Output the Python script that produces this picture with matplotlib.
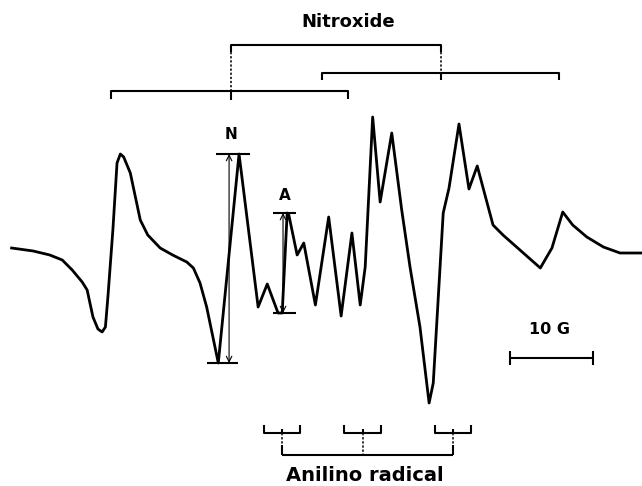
import matplotlib.pyplot as plt

# ESR derivative spectrum, field in G, signal in arbitrary units (baseline = 0)
field = [1.4, 4.0, 6.0, 7.5, 8.7, 9.9, 10.5, 11.2, 11.8, 12.3, 12.7, 13.0,
         13.6, 14.1, 14.5, 14.9, 15.7, 16.9, 17.8, 19.3, 20.8, 22.5, 23.3,
         24.1, 24.9, 25.9, 26.3, 28.8, 31.1, 32.2, 33.5, 34.0, 34.6, 34.8,
         35.8, 36.6, 38.0, 39.6, 41.1, 42.4, 43.4, 44.0, 44.9, 45.8, 47.2,
         48.4, 49.4, 50.6, 51.7, 52.2, 53.4, 54.1, 55.3, 56.5, 57.5, 59.4,
         60.6, 65.1, 66.5, 67.8, 69.0, 70.7, 72.7, 74.7, 77.3]
signal = [2, -1, -5, -10, -20, -32, -40, -67, -79, -82, -77, -47,
          20, 87, 96, 93, 77, 30, 15, 2, -5, -12, -18,
          -33, -57, -97, -113, 96, -57, -34, -63, -63, 37, 35,
          -5, 7, -55, 33, -66, 17, -55, -17, 133, 48, 117,
          40, -17, -77, -153, -133, 37, 62, 126, 61, 84, 25,
          15, -18, 2, 38, 25, 13, 3, -3, -3]

# nitroxide triplets (two species) and the anilino radical lines
nitroxide_1 = [13.4, 27.8, 41.9]
nitroxide_2 = [38.8, 53.1, 67.3]
anilino = [34.0, 43.7, 54.6]
anilino_split = 2.2

# peak-to-peak heights used for the N and A signals
n_peak, n_trough = 96, -113
a_peak, a_trough = 37, -63

fig = plt.figure(figsize=(6.42, 4.86), dpi=100)
ax = fig.add_axes([0, 0, 1, 1])
ax.set_xlim(0, 77.35)
ax.set_ylim(-236, 250)
ax.axis("off")

ax.plot(field, signal, color="black", lw=2.0, solid_joinstyle="round")

bk = dict(color="black", lw=1.5, solid_capstyle="butt")
dots = dict(color="black", lw=1.1, ls=(0, (1.5, 1.2)))


def bracket(xs, y, drop, mid_drop):
    ax.plot([xs[0], xs[0], xs[-1], xs[-1]], [y - drop, y, y, y - drop], **bk)
    ax.plot([xs[1], xs[1]], [y, y - mid_drop], **bk)


# Nitroxide stick diagram
bracket(nitroxide_1, 159, 8, 9)
bracket(nitroxide_2, 177, 7, 7)
top = [nitroxide_1[1], nitroxide_2[1]]
ax.plot([top[0], top[0], top[1], top[1]], [198, 205, 205, 198], **bk)
ax.plot([top[0], top[0]], [198, 159], **dots)
ax.plot([top[1], top[1]], [198, 177], **dots)
ax.text(41.9, 228, "Nitroxide", ha="center", va="center", fontsize=13,
        fontweight="bold")

# Anilino radical stick diagram
for c in anilino:
    xs = [c - anilino_split, c, c + anilino_split]
    ax.plot([xs[0], xs[0], xs[2], xs[2]], [-175, -183, -183, -175], **bk)
    ax.plot([c, c], [-183, -179], **bk)
for c in [anilino[0], anilino[2]]:
    ax.plot([c, c], [-183, -195], **dots)
    ax.plot([c, c], [-195, -205], **bk)
ax.plot([anilino[1], anilino[1]], [-183, -205], **dots)
ax.plot([anilino[0], anilino[2]], [-205, -205], **bk)
ax.text(44.0, -225, "Anilino radical", ha="center", va="center", fontsize=14,
        fontweight="bold")

# peak-to-peak markers
ax.plot([26.0, 30.1], [n_peak, n_peak], **bk)
ax.plot([24.9, 28.7], [n_trough, n_trough], **bk)
ax.annotate("", xy=(27.6, n_peak), xytext=(27.6, n_trough),
            arrowprops=dict(arrowstyle="<->", lw=0.8, color="black",
                            shrinkA=0, shrinkB=0))
ax.text(27.8, 115, "N", ha="center", va="center", fontsize=11, fontweight="bold")

ax.plot([32.9, 35.7], [a_peak, a_peak], **bk)
ax.plot([32.9, 35.7], [a_trough, a_trough], **bk)
ax.annotate("", xy=(34.1, a_peak), xytext=(34.1, a_trough),
            arrowprops=dict(arrowstyle="<->", lw=0.8, color="black",
                            shrinkA=0, shrinkB=0))
ax.text(34.3, 55, "A", ha="center", va="center", fontsize=11, fontweight="bold")

# 10 G scale bar
ax.plot([61.4, 71.4], [-108, -108], **bk)
ax.plot([61.4, 61.4], [-101, -115], **bk)
ax.plot([71.4, 71.4], [-101, -115], **bk)
ax.text(66.2, -80, "10 G", ha="center", va="center", fontsize=11.5,
        fontweight="bold")

fig.savefig("out.png", dpi=100, facecolor="white")
